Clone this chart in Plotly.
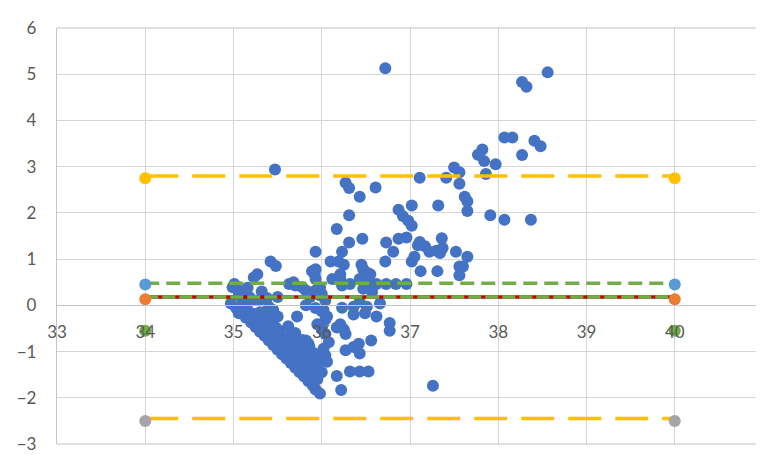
import plotly.graph_objects as go

# ---- Bland-Altman scatter points (mean, difference) ----
points_upper_right = [
    (37.02, 2.16), (37.32, 2.16), (37.11, 2.76), (37.41, 2.76), (37.50, 2.98),
    (37.56, 2.88), (37.56, 2.63), (37.62, 2.35), (37.65, 2.25), (37.65, 2.04),
    (37.77, 3.26), (37.82, 3.37), (37.84, 3.12), (37.86, 2.84), (37.97, 3.05),
    (38.07, 3.63), (38.16, 3.63), (38.27, 3.25), (38.41, 3.56), (38.48, 3.44),
    (37.91, 1.95), (38.07, 1.85), (38.37, 1.85), (38.27, 4.83), (38.32, 4.73),
    (38.56, 5.04), (37.02, 1.72), (36.87, 2.07), (36.92, 1.93), (36.98, 1.83),
]
points_right_mid = [
    (36.96, 1.47), (36.87, 1.44), (37.11, 1.37), (37.17, 1.28), (37.22, 1.16),
    (37.30, 1.18), (37.36, 1.45), (37.37, 1.24), (37.34, 1.13), (37.52, 1.16),
    (37.65, 1.05), (37.05, 1.05), (37.02, 0.95), (37.12, 0.74), (37.31, 0.74),
    (37.56, 0.84), (37.60, 0.84), (37.56, 0.65), (37.09, 1.30),
]
points_isolated = [(35.47, 2.94), (36.72, 5.13), (37.26, -1.74)]
points_middle = [
    (36.27, 2.65), (36.31, 2.54), (36.43, 2.35), (36.61, 2.55), (36.31, 1.95),
    (36.17, 1.65), (36.46, 1.44), (36.31, 1.36), (36.23, 1.16), (36.19, 0.95),
    (36.10, 0.95), (36.73, 1.36), (36.81, 1.16), (36.72, 0.95), (35.93, 1.16),
    (36.25, 0.88), (36.45, 0.88), (36.47, 0.78), (36.51, 0.71), (36.49, 0.60),
    (36.55, 0.67), (36.32, 0.46), (36.23, 0.43), (36.12, 0.57), (36.21, 0.57),
    (36.43, 0.57), (36.51, 0.50), (36.57, 0.46), (36.62, 0.46), (36.73, 0.46),
    (36.84, 0.46), (36.96, 0.46), (36.21, 0.67), (36.57, 0.29), (36.47, 0.36),
    (36.43, 0.08), (36.36, -0.03), (36.51, -0.03), (36.66, 0.04), (36.23, -0.05),
    (36.36, -0.20), (36.49, -0.17), (36.62, -0.24), (36.77, -0.38), (36.77, -0.55),
    (36.21, -0.41), (36.25, -0.52), (36.27, -0.62), (36.17, -0.48), (36.56, -0.76),
    (36.27, -0.97), (36.36, -0.90), (36.42, -0.83), (36.43, -1.04), (36.32, -1.43),
    (36.43, -1.43), (36.53, -1.43), (36.17, -1.53), (36.22, -1.83), (36.02, -0.94),
    (36.04, -1.08), (36.06, -1.22), (36.02, -0.10), (36.04, -0.31), (36.04, 0.11),
    (36.00, 0.25), (35.98, 0.39), (35.93, 0.57), (35.89, 0.74), (35.92, 0.67),
    (36.08, -0.80),
]
points_blob_edge = [
    (35.08, -0.15), (35.14, -0.27), (35.20, -0.37), (35.25, -0.47), (35.30, -0.57),
    (35.35, -0.66), (35.40, -0.76), (35.45, -0.86), (35.50, -0.96), (35.55, -1.06),
    (35.60, -1.15), (35.65, -1.25), (35.70, -1.35), (35.75, -1.45), (35.80, -1.54),
    (35.85, -1.64), (35.90, -1.74), (35.93, -1.82), (35.98, -1.91),
]
points_blob_inner = [
    (35.15, -0.05), (35.22, -0.18), (35.28, -0.32), (35.35, -0.45), (35.42, -0.58),
    (35.48, -0.70), (35.55, -0.83), (35.62, -0.97), (35.68, -1.08), (35.75, -1.22),
    (35.82, -1.35), (35.88, -1.48), (35.95, -1.60),
    (35.30, -0.15), (35.37, -0.28), (35.44, -0.42), (35.52, -0.55), (35.60, -0.70),
    (35.67, -0.83), (35.74, -0.96), (35.81, -1.10), (35.88, -1.22), (35.95, -1.35),
    (36.00, -1.45),
    (35.45, -0.10), (35.62, -0.45), (35.70, -0.60), (35.78, -0.75), (35.86, -0.90),
    (35.93, -1.05), (36.00, -1.20),
    (35.65, -0.62), (35.68, -0.76), (35.44, -0.69), (35.50, -0.83), (35.55, -0.94),
    (35.61, -1.04), (35.66, -1.15), (35.72, -1.25), (35.78, -1.04), (35.85, -1.08),
    (35.93, -1.15), (35.76, -1.39), (35.82, -1.50), (35.85, -1.60), (35.89, -1.32),
    (35.95, -1.43), (35.78, -0.83), (35.85, -0.83), (35.95, -0.41), (36.00, -0.52),
    (36.04, -0.62), (35.93, -0.06), (36.00, -0.13), (36.06, -0.24), (35.82, 0.00),
    (35.72, -0.24), (35.82, -0.76),
]
points_blob_top = [
    (35.87, 0.18), (35.82, 0.32), (35.93, 0.32), (35.98, 0.22), (35.70, 0.43),
    (35.78, 0.39), (35.63, 0.46), (35.50, 0.18), (35.68, 0.50),
    (34.99, 0.39), (35.06, 0.32), (35.12, 0.25), (35.18, 0.18), (34.97, 0.04),
    (35.03, -0.06), (35.06, -0.17), (35.06, 0.22), (35.21, 0.11), (35.29, 0.11),
    (35.40, -0.03), (35.44, -0.13), (35.50, -0.24), (35.35, -0.27), (35.42, -0.41),
    (35.48, -0.48), (35.36, -0.62), (35.42, 0.95), (35.48, 0.85), (35.27, 0.67),
    (35.23, 0.60), (35.01, 0.46), (35.93, 0.78), (35.10, 0.05), (35.16, 0.38),
    (35.32, 0.30), (35.38, 0.16),
]

# ---- reference lines (bias, limits of agreement) ----
line_x = [34, 40]
upper_loa = 2.8
lower_loa = -2.45
bias = 0.18
upper_ci = 0.48

# ---- end-point markers ----
end_x = [34, 40]
end_yellow = 2.75
end_blue = 0.45
end_orange = 0.13
end_green = -0.55
end_gray = -2.5

x_range = [33, 41]
y_range = [-3, 6]

all_points = (points_upper_right + points_right_mid + points_isolated + points_middle
              + points_blob_edge + points_blob_inner + points_blob_top)
mean_vals = [p[0] for p in all_points]
diff_vals = [p[1] for p in all_points]

fig = go.Figure()
fig.add_trace(go.Scatter(x=mean_vals, y=diff_vals, mode="markers",
                         marker=dict(color="#4472C4", size=12, line=dict(width=0)),
                         showlegend=False))

def hline(y, color, dash, width=3.5):
    fig.add_trace(go.Scatter(x=line_x, y=[y, y], mode="lines",
                             line=dict(color=color, width=width, dash=dash),
                             showlegend=False))

hline(upper_loa, "#FFC000", "33px,14px")
hline(lower_loa, "#FFC000", "33px,14px")
hline(upper_ci, "#70AD47", "14px,7px")
hline(bias, "#C00000", "solid")
hline(bias, "#70AD47", "13px,4px")

for yv, col in [(end_yellow, "#FFC000"), (end_blue, "#5B9BD5"), (end_orange, "#ED7D31"),
                (end_green, "#70AD47"), (end_gray, "#A5A5A5")]:
    fig.add_trace(go.Scatter(x=end_x, y=[yv, yv], mode="markers",
                             marker=dict(color=col, size=12, line=dict(width=0)),
                             showlegend=False))

grid_col = "#D6D6D6"
# right and top frame edges (they coincide with the outermost gridlines)
for x0, y0, x1, y1 in [(1, 0, 1, 1), (0, 1, 1, 1), (0, 0, 1, 0)]:
    fig.add_shape(type="line", x0=x0, y0=y0, x1=x1, y1=y1, xref="paper", yref="paper",
                  line=dict(color=grid_col, width=1.3), layer="below")

tick_font = dict(family="Lato, Liberation Sans, sans-serif", size=17, color="#595959")

fig.update_layout(
    width=764, height=455,
    margin=dict(l=45, r=9, t=18, b=10),
    paper_bgcolor="white", plot_bgcolor="white",
    xaxis=dict(range=x_range, dtick=1, tick0=33, showgrid=True, gridcolor=grid_col,
               gridwidth=1.3, zeroline=False, showline=True, linecolor="#C4C4C4", linewidth=1.3,
               anchor="free", position=1/3, ticks="", tickfont=tick_font,
               ticklabelstandoff=11),
    yaxis=dict(range=y_range, dtick=1, tick0=-3, showgrid=True, gridcolor=grid_col,
               gridwidth=1.3, zeroline=False, showline=True, linecolor="#C4C4C4", linewidth=1.3,
               ticks="", tickfont=tick_font, ticklabelstandoff=16),
)

fig.write_html("out.html")
